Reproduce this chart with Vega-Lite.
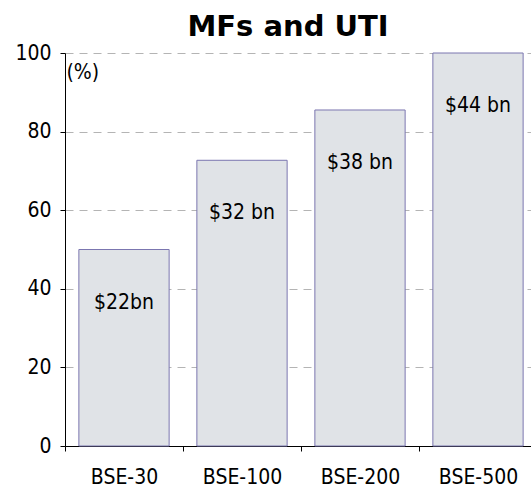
{
  "$schema": "https://vega.github.io/schema/vega-lite/v6.json",
  "autosize": "none",
  "padding": {"left": 65, "top": 53, "right": 0, "bottom": 41},
  "width": 472,
  "height": 393,
  "background": "white",
  "title": {
    "text": "MFs and UTI",
    "font": "DejaVu Sans",
    "fontSize": 29,
    "fontWeight": "bold",
    "color": "black",
    "anchor": "middle",
    "frame": "group",
    "baseline": "alphabetic",
    "offset": 10,
    "dx": -13,
    "dy": 33
  },
  "config": {
    "view": {"stroke": null},
    "font": "DejaVu Sans Condensed"
  },
  "data": {
    "values": [
      {"index": "BSE-30", "share": 50, "label": "$22bn"},
      {"index": "BSE-100", "share": 72.7, "label": "$32 bn"},
      {"index": "BSE-200", "share": 85.5, "label": "$38 bn"},
      {"index": "BSE-500", "share": 100, "label": "$44 bn"}
    ]
  },
  "encoding": {
    "x": {
      "field": "index",
      "type": "nominal",
      "sort": null,
      "scale": {"paddingInner": 0, "paddingOuter": 0},
      "axis": {
        "title": null,
        "labelAngle": 0,
        "labelFont": "DejaVu Sans Condensed",
        "labelFontSize": 21,
        "labelColor": "black",
        "labelPadding": 15,
        "domainColor": "black",
        "tickColor": "black",
        "tickSize": 5,
        "tickBand": "extent",
        "grid": false
      }
    },
    "y": {
      "field": "share",
      "type": "quantitative",
      "scale": {"domain": [0, 100], "nice": false},
      "axis": {
        "values": [0, 20, 40, 60, 80, 100],
        "title": "(%)",
        "titleAngle": 0,
        "titleX": 1,
        "titleY": 19,
        "titleAlign": "left",
        "titleBaseline": "middle",
        "titleFont": "DejaVu Sans Condensed",
        "titleFontSize": 21,
        "titleFontWeight": "normal",
        "titleColor": "black",
        "labelFont": "DejaVu Sans Condensed",
        "labelFontSize": 21,
        "labelColor": "black",
        "labelPadding": 9,
        "domainColor": "black",
        "tickColor": "black",
        "tickSize": 5,
        "grid": true,
        "gridColor": "#b4b4b4",
        "gridDash": [8, 6],
        "gridWidth": 1
      }
    }
  },
  "layer": [
    {
      "mark": {
        "type": "bar",
        "width": {"band": 0.765},
        "fill": "#e0e3e7",
        "stroke": "#7b76b0",
        "strokeWidth": 1
      }
    },
    {
      "mark": {
        "type": "text",
        "dy": 53,
        "baseline": "middle",
        "align": "center",
        "font": "DejaVu Sans Condensed",
        "fontSize": 21,
        "color": "black"
      },
      "encoding": {"text": {"field": "label"}}
    }
  ]
}
